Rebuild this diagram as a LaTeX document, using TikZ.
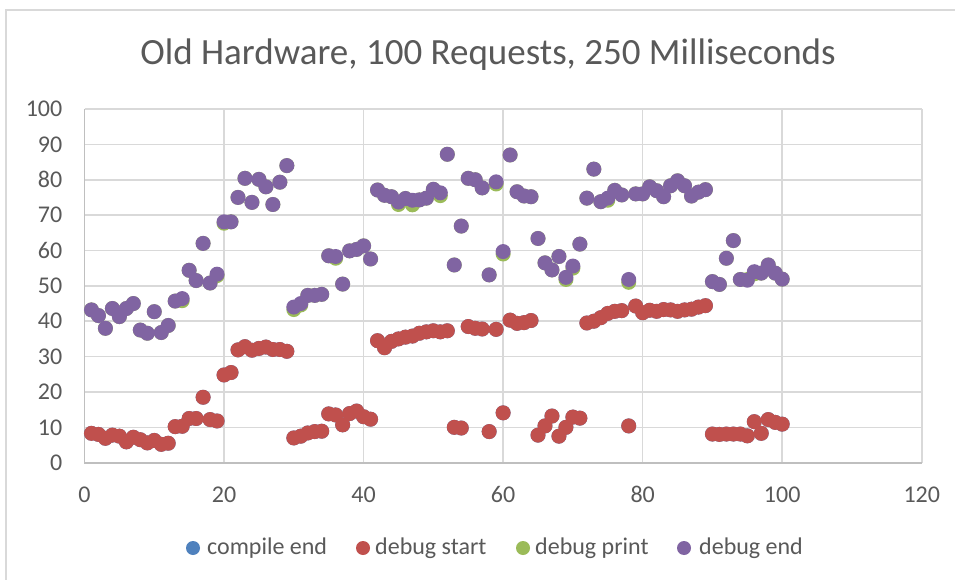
\documentclass[tikz,border=0pt]{standalone}
\usepackage{fontspec}
\setmainfont{Carlito}
\usepackage{tikz}
\usepackage{color}

\definecolor{txtgray}{HTML}{595959}
\definecolor{gridgray}{HTML}{D9D9D9}
\definecolor{axisgray}{HTML}{BFBFBF}
\definecolor{cmpblue}{HTML}{4F81BD}
\definecolor{dbgred}{HTML}{C0504D}
\definecolor{dbggreen}{HTML}{9BBB59}
\definecolor{dbgpurple}{HTML}{8064A2}

\def\startvals{8.3,8.0,6.9,7.8,7.5,5.9,7.2,6.5,5.6,6.3,5.2,5.5,10.2,10.3,12.5,12.5,18.5,12.2,11.8,24.8,
25.5,31.9,32.8,31.8,32.3,32.7,32.0,32.0,31.5,7.0,7.5,8.4,8.8,8.9,13.8,13.5,10.7,13.9,14.6,13.0,
12.3,34.5,32.5,34.3,35.0,35.5,35.8,36.6,37.0,37.3,37.0,37.3,10.0,9.8,38.5,38.0,37.8,8.8,37.7,14.1,
40.3,39.4,39.6,40.2,7.8,10.4,13.2,7.5,10.0,12.9,12.6,39.5,40.0,41.0,42.2,42.8,43.0,10.4,44.3,42.4,
43.1,42.8,43.3,43.2,42.8,43.2,43.4,44.0,44.4,8.1,8.0,8.1,8.1,8.1,7.6,11.6,8.3,12.2,11.4,10.9}
\def\printvals{43.2,41.6,38.0,43.6,41.3,43.6,45.0,37.5,36.6,42.7,36.8,38.8,45.7,45.8,54.4,51.5,62.0,50.8,52.9,67.7,
68.1,75.0,80.4,73.6,80.1,78.0,73.0,79.3,84.0,43.3,44.6,47.3,47.3,47.6,58.5,57.8,50.5,59.9,60.3,61.3,
57.6,77.1,75.6,75.2,73.0,74.7,72.9,74.3,74.8,77.3,75.5,87.2,55.9,66.9,80.4,80.0,77.7,53.1,78.8,59.0,
87.0,76.6,75.4,75.2,63.4,56.5,54.5,58.3,51.8,55.0,61.8,74.8,83.0,73.8,74.2,77.0,75.7,51.0,76.0,76.0,
78.0,76.9,75.2,78.3,79.7,78.3,75.4,76.5,77.2,51.2,50.4,57.8,62.8,51.8,51.8,53.4,53.6,55.9,53.6,51.9}
\def\endvals{43.2,41.6,38.0,43.6,41.3,43.6,45.0,37.5,36.6,42.7,36.8,38.8,45.7,46.4,54.4,51.5,62.0,50.8,53.3,68.1,
68.1,75.0,80.4,73.6,80.1,78.0,73.0,79.3,84.0,44.0,45.0,47.3,47.3,47.6,58.5,58.3,50.5,59.9,60.3,61.3,
57.6,77.1,75.6,75.2,73.7,74.7,74.2,74.3,74.8,77.3,76.3,87.2,55.9,66.9,80.4,80.0,77.7,53.1,79.4,59.7,
87.0,76.6,75.4,75.2,63.4,56.5,54.5,58.3,52.4,55.6,61.8,74.8,83.0,73.8,74.8,77.0,75.7,51.8,76.0,76.0,
78.0,76.9,75.2,78.3,79.7,78.3,75.4,76.5,77.2,51.2,50.4,57.8,62.8,51.8,51.6,54.0,53.6,55.9,53.6,51.9}

\begin{document}
\begin{tikzpicture}[x=1pt,y=1pt,
    gridln/.style={gridgray, line width=1.6pt},
    ticklbl/.style={text=txtgray, font=\fontsize{24}{28}\selectfont, inner sep=0pt},
    leglbl/.style={text=txtgray, font=\fontsize{24}{28}\selectfont, inner sep=0pt, anchor=base west}]
\useasboundingbox (0,0) rectangle (955,579);
\fill[white] (0,0) rectangle (955,579);
\draw[gridgray, line width=1.6pt] (6,-2) -- (6,569) -- (957,569);

\node[text=txtgray, font=\fontsize{37}{44}\selectfont, inner sep=0pt, anchor=base] (title) at (488,514)
    {Old Hardware, 100 Requests, 250 Milliseconds};

\begin{scope}[shift={(84.5,116.3)}, x=6.977pt, y=3.537pt]
    \foreach \v in {10,20,...,100}
        \draw[gridln] (0,\v) -- (120,\v);
    \foreach \u in {20,40,...,120}
        \draw[gridln] (\u,0) -- (\u,100);
    \draw[axisgray, line width=1.6pt] (0,100) -- (0,0) -- (120,0);

    \foreach \v in {0,10,...,100}
        \node[ticklbl, anchor=east] (ylab\v) at ([xshift=-22pt]0,\v) {\v};
    \foreach \u in {0,20,...,120}
        \node[ticklbl] (xlab\u) at ([yshift=-32pt]\u,0) {\u};

    \foreach \v [count=\i] in \startvals
        \fill[cmpblue] (\i,\v) circle[radius=7.5pt];
    \foreach \v [count=\i] in \startvals
        \fill[dbgred] (\i,\v) circle[radius=7.5pt];
    \foreach \v [count=\i] in \printvals
        \fill[dbggreen] (\i,\v) circle[radius=7.5pt];
    \foreach \v [count=\i] in \endvals
        \fill[dbgpurple] (\i,\v) circle[radius=7.5pt];
\end{scope}

\fill[cmpblue] (193,31) circle[radius=7pt];
\node[leglbl] (lgcompile) at (207,25) {compile end};
\fill[dbgred] (363,31) circle[radius=7pt];
\node[leglbl] (lgstart) at (375,25) {debug start};
\fill[dbggreen] (523,31) circle[radius=7pt];
\node[leglbl] (lgprint) at (535,25) {debug print};
\fill[dbgpurple] (684,31) circle[radius=7pt];
\node[leglbl] (lgend) at (699,25) {debug end};
\end{tikzpicture}
\end{document}
